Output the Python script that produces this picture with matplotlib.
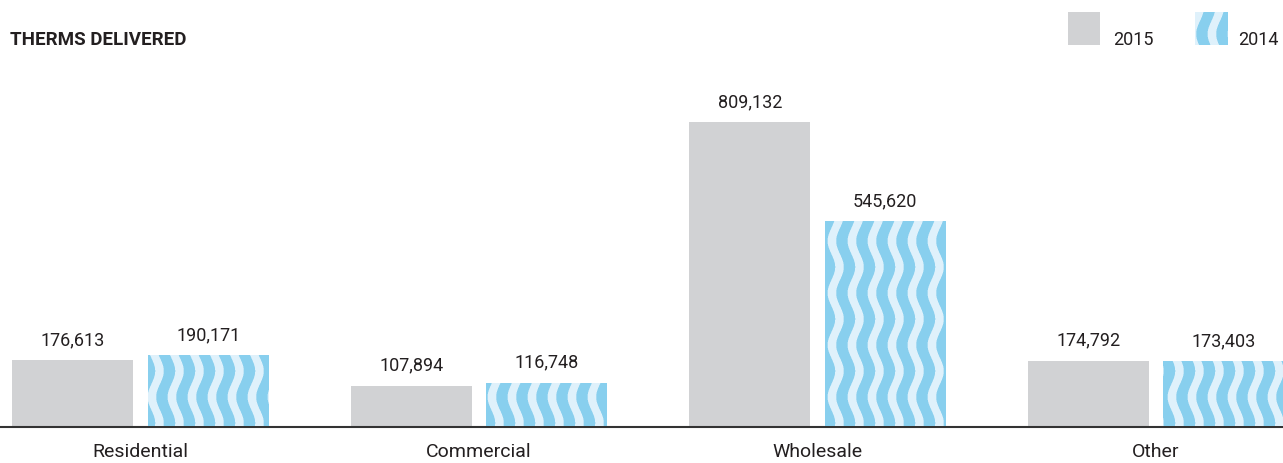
import matplotlib.pyplot as plt
import numpy as np
from matplotlib.colors import to_rgb
from matplotlib.patches import Rectangle

categories = ["Residential", "Commercial", "Wholesale", "Other"]
values_2015 = [176613, 107894, 809132, 174792]
values_2014 = [190171, 116748, 545620, 173403]
series_labels = ["2015", "2014"]

GRAY = "#d1d2d4"
WAVE_DARK = "#88cfee"
WAVE_LIGHT = "#dff1fb"
TEXT = "#231f20"

plt.rcParams["font.family"] = ["Roboto", "DejaVu Sans"]

W, H = 1283, 463
fig = plt.figure(figsize=(W / 100, H / 100), dpi=100)


def wave_pattern(w, h, period_x=20.0, period_y=52.0, amp=3.8, dark_frac=0.57, ss=3):
    # vertical wavy stripes, built in figure pixels
    ys = (np.arange(h * ss) + 0.5) / ss
    xs = (np.arange(w * ss) + 0.5) / ss
    xx, yy = np.meshgrid(xs, ys)
    u = xx + amp * np.sin(2 * np.pi * yy / period_y)
    dark = ((u % period_x) / period_x < dark_frac).astype(float)
    cov = dark.reshape(h, ss, w, ss).mean(axis=(1, 3))
    c1 = np.array(to_rgb(WAVE_DARK))
    c0 = np.array(to_rgb(WAVE_LIGHT))
    return c0 + (c1 - c0) * cov[..., None]


pattern = wave_pattern(W, H)

# main axes
ax = fig.add_axes([0, 36.5 / H, 1, 1 - 36.5 / H])
x = np.arange(len(categories))
bw = 0.357
off = 0.2
bars15 = ax.bar(x - off, values_2015, bw, color=GRAY, zorder=2)
bars14 = ax.bar(x + off, values_2014, bw, color=WAVE_LIGHT, zorder=2)

ax.set_xlim(-0.415, 3.375)
ax.set_ylim(0, 1.134e6)
for s in ["top", "left", "right"]:
    ax.spines[s].set_visible(False)
ax.spines["bottom"].set_color("#333333")
ax.spines["bottom"].set_linewidth(1.5)
ax.spines["bottom"].set_zorder(5)
ax.set_yticks([])
ax.set_xticks(x, categories, fontsize=14, color=TEXT)
ax.tick_params(axis="x", length=0, pad=12)
ax.patch.set_alpha(0)

for bars in (bars15, bars14):
    ax.bar_label(bars, labels=[f"{v:,.0f}" for v in bars.datavalues],
                 padding=8, fontsize=13, color=TEXT)

# overlay in pixel coordinates for wave fill and legend
ov = fig.add_axes([0, 0, 1, 1], zorder=3)
ov.axis("off")
ov.patch.set_alpha(0)

for b in bars14:
    im = ov.imshow(pattern, extent=[0, W, H, 0], origin="upper",
                   interpolation="nearest", aspect="auto", zorder=1)
    im.set_clip_path(b)

# title
ov.text(10, 418, "THERMS DELIVERED", fontsize=13.5, fontweight="bold",
        color=TEXT, va="baseline", ha="left")

# legend
sq15 = Rectangle((1068, 418), 32, 33, facecolor=GRAY, edgecolor="none")
ov.add_patch(sq15)
ov.text(1113, 418, series_labels[0], fontsize=13, color=TEXT, va="baseline")
sq14 = Rectangle((1195, 418), 33, 33, facecolor=WAVE_LIGHT, edgecolor="none")
ov.add_patch(sq14)
im = ov.imshow(pattern, extent=[0, W, H, 0], origin="upper",
               interpolation="nearest", aspect="auto", zorder=1)
im.set_clip_path(sq14)
ov.text(1279, 418, series_labels[1], fontsize=13, color=TEXT, va="baseline", ha="right")
ov.set_xlim(0, W)
ov.set_ylim(0, H)

fig.savefig("out.png", dpi=100)
